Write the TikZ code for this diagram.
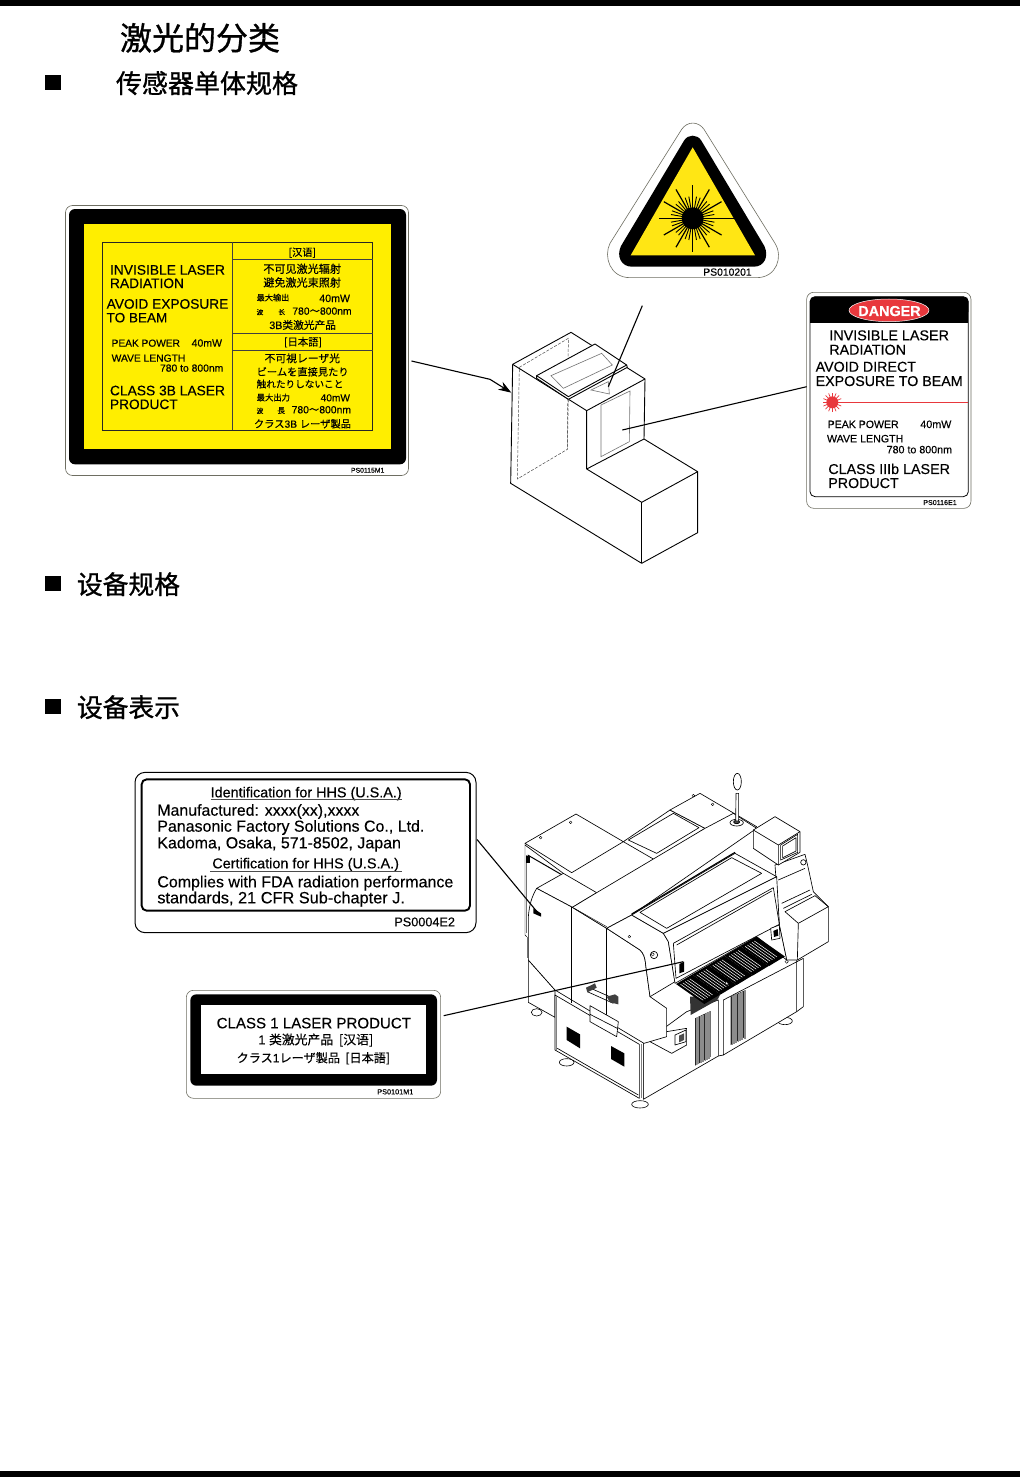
\documentclass[tikz,border=0pt]{standalone}
\usepackage{graphicx}
\usepackage{fontspec}
\setmainfont{Liberation Sans}[FakeBold=0.3]
\newfontfamily\cjksc{Noto Sans CJK SC}[FakeBold=0.2]
\newfontfamily\cjkjp{Noto Sans CJK JP}[FakeBold=0.2]
\newfontfamily\headfont{Noto Sans CJK SC}[FakeBold=1]
\usetikzlibrary{arrows.meta,calc}
\definecolor{lyellow}{HTML}{FFEE00}
\definecolor{tyellow}{HTML}{FFE614}
\definecolor{dred}{HTML}{E8383D}
\definecolor{frame}{HTML}{6E6E62}
\newcounter{tn}
\def\zf{1}
\newcommand\lbl[4]{\stepcounter{tn}\pgfmathsetmacro\lw{(#2-#1)*\zf}%
  \node[lbltext] (t\thetn) at (#1,#3) {\resizebox{\lw pt}{!}{#4}};}
\tikzset{
  lbltext/.style={anchor=base west,inner sep=0pt,outer sep=0pt},
  zs/.style 2 args={shift={(#1,#2)},x=0.33333pt,y=-0.33333pt},
  labelframe/.style={draw=frame,line width=0.6pt,fill=white,rounded corners=7pt,inner sep=0pt,outer sep=0pt},
  leader/.style={draw=black,line width=1.1pt},
  iso/.style={draw=black,line width=0.9pt,line join=round},
  isothin/.style={draw=black!55,line width=0.6pt},
  isodash/.style={draw=black!70,line width=0.5pt,dashed,dash pattern=on 3pt off 1.5pt},
  mach/.style={draw=black,line width=0.65pt,line join=round,fill=white},
  machl/.style={draw=black,line width=0.65pt,line join=round},
  machf/.style={draw=black,line width=0.4pt,line join=round},
  bullet/.style={fill=black,inner sep=0pt,minimum width=16pt,minimum height=15.5pt,outer sep=0pt}
}
\begin{document}
\begin{tikzpicture}[x=1pt,y=-1pt]
\useasboundingbox (0,0) rectangle (1020,1477);
\fill[white] (0,0) rectangle (1020,1477);
\fill[black] (0,0) rectangle (1020,6);
\fill[black] (0,1471) rectangle (1020,1477);
% headings
\lbl{120}{280}{50}{\headfont 激光的分类}
\lbl{116}{298}{93}{\headfont 传感器单体规格}
\lbl{77}{180}{594}{\headfont 设备规格}
\lbl{77}{180}{717}{\headfont 设备表示}
\node[bullet] (b1) at (53,82.5) {};
\node[bullet] (b2) at (53,583.5) {};
\node[bullet] (b3) at (53,706.5) {};
% label frames
\node[labelframe,minimum width=343pt,minimum height=270pt] (lab3b) at (237,340.5) {};
\node[labelframe,minimum width=164.3pt,minimum height=216pt] (labdanger) at (888.8,400.3) {};
\node[labelframe,draw=black,line width=1pt,rounded corners=10pt,minimum width=341pt,minimum height=160.3pt] (labhhs) at (305.5,852.5) {};
\node[labelframe,minimum width=254.3pt,minimum height=108pt] (labone) at (313.5,1044.3) {};
% ---- yellow label
\begin{scope}[zs={60}{200}]\def\zf{0.33333}
\fill[black,rounded corners=6pt] (27,27) rectangle (1038,793);
\fill[lyellow] (73,73) rectangle (992,746);
\draw[black!85,line width=0.8pt] (127,127) rectangle (938,691);
\draw[black!75,line width=0.7pt] (518,127) -- (518,691) (518,178) -- (938,178) (518,401) -- (938,401) (518,451) -- (938,451);
\lbl{150}{495}{224}{INVISIBLE LASER}
\lbl{150}{372}{264}{RADIATION}
\lbl{140}{505}{326}{AVOID EXPOSURE}
\lbl{140}{322}{367}{TO BEAM}
\lbl{155}{360}{440}{PEAK POWER}
\lbl{395}{486}{440}{40mW}
\lbl{155}{376}{485}{WAVE LENGTH}
\lbl{300}{490}{515}{780 to 800nm}
\lbl{150}{495}{586}{CLASS 3B LASER}
\lbl{150}{353}{627}{PRODUCT}
\lbl{686}{768}{168}{\cjksc [汉语]}
\lbl{610}{843}{219}{\cjksc 不可见激光辐射}
\lbl{610}{843}{260}{\cjksc 避免激光束照射}
\lbl{590}{688}{302}{\cjksc 最大输出}
\lbl{778}{870}{306}{40mW}
\lbl{590}{610}{344}{\cjksc 波}
\lbl{655}{675}{344}{\cjksc 长}
\lbl{697}{875}{344}{780{\cjksc ～}800nm}
\lbl{628}{828}{387}{3B{\cjksc 类激光产品}}
\lbl{672}{786}{437}{\cjkjp [日本語]}
\lbl{614}{840}{487}{\cjkjp 不可視レーザ光}
\lbl{590}{866}{527}{\cjkjp ビームを直接見たり}
\lbl{590}{850}{563}{\cjkjp 触れたりしないこと}
\lbl{590}{690}{602}{\cjkjp 最大出力}
\lbl{782}{870}{604}{40mW}
\lbl{590}{610}{640}{\cjkjp 波}
\lbl{652}{675}{640}{\cjkjp 長}
\lbl{695}{873}{640}{780{\cjkjp ～}800nm}
\lbl{582}{873}{683}{{\cjkjp クラス}3B {\cjkjp レーザ製品}}
\lbl{873}{973}{818}{PS0115M1}
\end{scope}
% ---- warning triangle + sensor + danger label
\begin{scope}[zs={490}{110}]\def\zf{0.33333}
\draw[frame,line width=0.6pt,fill=white] (575,58) -- (360,400) .. controls (340,440) and (360,503) .. (420,503) -- (800,503) .. controls (860,503) and (880,440) .. (855,400) -- (642,58) .. controls (625,33) and (592,33) .. (575,58) -- cycle;
\fill[black] (582,92) -- (393,408) .. controls (378,440) and (395,470) .. (425,470) -- (792,470) .. controls (822,470) and (838,440) .. (823,408) -- (634,92) .. controls (622,72) and (594,72) .. (582,92) -- cycle;
\fill[tyellow] (608,112) -- (795,436) -- (422,436) -- cycle;
\fill[black] (608,325) circle (33);
\foreach \a in {0,30,...,330} {\draw[black,line width=1.2pt] (608,325) -- ++(\a:100);}
\foreach \a in {10,20,40,50,70,80,100,110,130,140,160,170,190,200,220,230,250,260,280,290,310,320,340,350} {\draw[black,line width=0.9pt] (608,325) -- ++(\a:66);}
\draw[black,line width=1.2pt] (608,325) -- (736,325);
\lbl{640}{785}{497}{PS010201}
% sensor
\path[iso] (68,763) -- (243,667) -- (465,807) -- (462,987);
\path[iso] (68,763) -- (62,1120) -- (455,1360) -- (623,1268) -- (623,1085) -- (462,987) -- (290,1077) -- (455,1177) -- (623,1085);
\path[iso] (455,1177) -- (455,1360);
\path[iso] (290,1077) -- (290,902) -- (465,807);
\path[iso] (68,763) -- (290,902);
\draw[isodash] (88,772) -- (235,685) -- (232,1018) -- (82,1107) -- cycle;
\path[iso,fill=white] (140,797) -- (315,702) -- (410,765) -- (412,772) -- (235,868) -- (140,805) -- cycle;
\path[iso] (140,797) -- (235,860) -- (410,765);
\draw[isodash] (235,868) -- (232,1018);
\draw[isothin] (183,797) -- (335,730) -- (367,765) -- (220,835) -- cycle;
\draw[isothin] (303,840) -- (355,815) -- (358,852) -- cycle;
\draw[isothin] (333,885) -- (420,843) -- (418,995) -- (333,1040) -- cycle;
% danger label
\draw[black,line width=0.8pt,rounded corners=5pt] (960,560) rectangle (1435,1160);
\fill[black,rounded corners=5pt] (960,560) rectangle (1435,620);
\fill[black] (960,590) rectangle (1435,638);
\draw[white,fill=dred,line width=0.5pt] (1197,601) ellipse (120 and 34);
\lbl{1105}{1292}{618}{\textcolor{white}{\bfseries DANGER}}
\lbl{1018}{1377}{691}{INVISIBLE LASER}
\lbl{1018}{1248}{734}{RADIATION}
\lbl{977}{1278}{785}{AVOID DIRECT}
\lbl{977}{1418}{828}{EXPOSURE TO BEAM}
\draw[dred,line width=0.8pt] (1027,877) -- (1435,877);
\fill[dred] (1027,877) circle (18);
\foreach \a in {0,22.5,...,337.5} {\draw[dred,line width=0.7pt] (1027,877) -- ++(\a:29);}
\lbl{1013}{1226}{954}{PEAK POWER}
\lbl{1291}{1384}{954}{40mW}
\lbl{1011}{1240}{997}{WAVE LENGTH}
\lbl{1190}{1386}{1030}{780 to 800nm}
\lbl{1015}{1380}{1092}{CLASS IIIb LASER}
\lbl{1015}{1226}{1134}{PRODUCT}
\lbl{1300}{1400}{1185}{PS0116E1}
\coordinate (sensorArrow) at (64,848);
\coordinate (sensorBend) at (0,808);
\coordinate (sensorTop) at (457,587);
\coordinate (sensorTri) at (355,830);
\coordinate (sensorWin) at (397,960);
\end{scope}
% ---- HHS + class 1 labels
\begin{scope}[zs={125}{765}]\def\zf{0.33333}
\draw[black,line width=1.9pt,rounded corners=5pt] (50,43) rectangle (1035,437);
\lbl{257}{830}{97}{Identification for HHS (U.S.A.)}
\draw[black!70,line width=0.7pt] (257,104) -- (830,104);
\lbl{97}{703}{152}{Manufactured: xxxx(xx),xxxx}
\lbl{97}{898}{200}{Panasonic Factory Solutions Co., Ltd.}
\lbl{97}{828}{250}{Kadoma, Osaka, 571-8502, Japan}
\lbl{262}{822}{310}{Certification for HHS (U.S.A.)}
\draw[black!70,line width=0.7pt] (255,320) -- (830,320);
\lbl{97}{985}{367}{Complies with FDA radiation performance}
\lbl{97}{840}{415}{standards, 21 CFR Sub-chapter J.}
\lbl{808}{990}{484}{PS0004E2}
\fill[black,rounded corners=6pt] (196,688) rectangle (936,962);
\fill[white] (228,720) rectangle (904,928);
\lbl{275}{858}{790}{CLASS 1 LASER PRODUCT}
\lbl{400}{745}{838}{1 {\cjksc 类激光产品\ \ [汉语]}}
\lbl{335}{795}{892}{{\cjkjp クラス}1{\cjkjp レーザ製品\ \ [日本語]}}
\lbl{757}{865}{988}{PS0101M1}
\end{scope}
% ---- machine
\begin{scope}[zs={500}{765}]\def\zf{0.33333}
% back-left plate and post
\path[mach] (75,235) -- (228,147) -- (370,230) -- (215,323) -- cycle;
\path[machl] (75,240) -- (190,325);
\path[machl,line width=1pt] (83,270) -- (190,332);
\path[mach] (85,585) -- (85,712) -- (165,757) -- (165,675) -- cycle;
\draw[black!55,line width=1.5pt] (80,270) -- (80,505) (83,515) -- (83,580);
\path[machf] (75,235) -- (75,510) -- (80,515);
\fill[black] (78,272) rectangle (90,295);
% back window + back right plate
\path[mach] (370,230) -- (510,135) -- (615,190) -- (465,285) -- cycle;
\path[machl] (385,225) -- (520,145) -- (597,188) -- (470,265) -- cycle;
\path[mach] (510,135) -- (600,85) -- (770,185) -- (690,240) -- (615,190) -- cycle;
\foreach \p in {(122,218),(212,172),(580,92),(638,118)} {\draw[machf] \p circle (4);}
% feet behind
\foreach \p/\r in {(110,742)/16,(200,892)/22,(420,1018)/25,(855,768)/22} {\draw[black,line width=0.6pt,fill=white] \p ellipse (\r*1 and 11);}
% base cabinet, left face
\path[mach] (165,690) -- (165,855) -- (418,1000) -- (418,838) -- cycle;
\draw[black!50,line width=1.2pt] (169,693) -- (169,855) (424,838) -- (424,1000);
\path[machl] (172,850) -- (415,990);
\path[machl] (430,835) -- (430,1003);
\fill[black] (200,785) -- (240,808) -- (240,850) -- (200,825) -- cycle;
\fill[black] (333,843) -- (373,865) -- (373,905) -- (333,882) -- cycle;
% right cabinet
\path[mach] (430,1003) -- (655,873) -- (655,705) -- (560,740) -- (430,835) -- cycle;
\path[mach] (670,870) -- (890,740) -- (910,725) -- (910,580) -- (670,705) -- cycle;
\path[machl] (655,873) -- (670,870) (890,585) -- (890,740);
% vents
\fill[black!85] (585,760) -- (632,738) -- (632,875) -- (585,902) -- cycle;
\fill[black!85] (692,695) -- (737,675) -- (737,815) -- (692,840) -- cycle;
\foreach \i in {0,1,...,11} {
 \draw[black!45,line width=0.25pt] ({588+\i*3.7},{759-\i*1.75}) -- ++(0,141);
 \draw[black!45,line width=0.25pt] ({695+\i*3.6},{694-\i*1.6}) -- ++(0,145);}
% under-hood box and switch
\path[mach] (450,830) -- (515,865) -- (560,840) -- (560,790) -- (500,800) -- cycle;
\path[mach] (525,810) -- (558,795) -- (558,830) -- (525,840) -- cycle;
\fill[black!70] (537,812) -- (552,805) -- (552,825) -- (537,832) -- cycle;
% tower and console
\path[mach] (825,300) -- (915,268) -- (925,310) -- (940,380) -- (985,425) -- (985,530) -- (892,585) -- (860,585) -- (838,480) -- cycle;
\path[machl] (855,440) -- (945,392) -- (985,425) -- (895,475) -- cycle;
\path[machl] (895,475) -- (892,585);
\path[machl] (835,345) -- (915,310) (845,415) -- (930,375) (850,430) -- (935,388);
\draw[machl] (910,292) circle (8);
% hood
\path[mach] (110,370) -- (190,325) -- (290,383) -- (217,427) -- cycle;
\path[mach] (110,370) -- (217,427) -- (320,490) -- (420,555) .. controls (430,565) and (435,575) .. (437,600) -- (450,695) -- (500,730) -- (500,815) -- (432,835) -- (165,675) -- (85,585) -- (85,455) .. controls (88,420) and (95,395) .. (110,370) -- cycle;
\path[mach] (217,427) -- (290,383) -- (615,190) -- (700,145) -- (770,190) -- (395,450) -- (320,490) -- cycle;
\path[machf] (223,430) -- (320,485);
\path[mach] (320,490) -- (395,450) -- (490,505) -- (505,530) -- (525,650) -- (450,695) -- (437,600) .. controls (435,575) and (430,565) .. (420,555) -- cycle;
\path[mach] (395,450) -- (705,265) -- (830,335) -- (490,505) -- cycle;
\path[machl,line width=1.1pt] (395,447) -- (705,262);
\path[machl] (420,442) -- (695,278) -- (785,325) -- (500,490) -- cycle;
\path[mach] (490,505) -- (830,335) -- (838,480) -- (860,585) -- (770,515) -- (525,655) -- (505,530) -- cycle;
\path[machl] (520,535) -- (820,368) -- (838,478) -- (528,640) -- cycle;
\path[machl] (530,540) -- (815,378);
\path[machl] (215,427) -- (215,715);
\path[machl] (320,490) -- (320,760);
\draw[machf] (388,515) circle (4);
\draw[black,line width=0.65pt,fill=white] (462,570) circle (11);
\draw[machf] (458,568) circle (5);
\fill[black] (100,430) -- (123,445) -- (123,455) -- (100,445) -- cycle;
\fill[black] (538,597) -- (552,590) -- (552,620) -- (538,625) -- cycle;
% rear box seen through the cavity
\path[mach] (812,490) -- (838,480) -- (840,520) -- (815,525) -- cycle;
\fill[black] (820,498) -- (833,492) -- (835,512) -- (822,516) -- cycle;
% feeders
\fill[black!80] (570,695) -- (660,690) -- (652,705) -- (572,750) -- cycle;
\foreach \i in {0,1,2,3,4} {
 \begin{scope}[shift={(48.4*\i,-28.4*\i)}]
 \fill[black] (528,657) -- (576.4,628.6) -- (661,688) -- (613,717) -- cycle;
 \foreach \j in {1,...,5} {\draw[white,line width=0.5pt] ({528+\j*6.9+6.8},{657-\j*4.06+4.8}) -- ++(68,48);}
 \end{scope}}
\fill[white,draw=black,line width=0.4pt] (680,655) circle (5);
\fill[white,draw=black,line width=0.4pt] (860,590) circle (5);
% bracket + plate
\path[machl] (262,680) -- (340,715) (268,668) -- (345,702);
\fill[black!75] (258,668) -- (285,655) -- (290,668) -- (262,682) -- cycle;
\fill[black!75] (320,695) -- (345,688) -- (355,695) -- (355,718) -- (330,712) -- cycle;
\path[mach] (270,722) -- (355,770) -- (350,815) -- (270,770) -- cycle;
\path[machl] (270,748) -- (352,790);
% stick + monitor
\draw[mach] (710,173) ellipse (20 and 10);
\draw[black,line width=0.7pt,fill=black!70] (710,171) ellipse (9 and 5);
\draw[mach] (707,168) -- (708,85) -- (716,85) -- (716,168) -- cycle;
\draw[mach] (712,50) ellipse (12 and 25);
\path[mach] (760,195) -- (825,155) -- (900,200) -- (900,262) -- (835,300) -- (760,250) -- cycle;
\path[machl] (760,195) -- (835,240) -- (900,200) (835,240) -- (835,300);
\path[mach] (842,240) -- (893,208) -- (893,262) -- (842,285) -- cycle;
\path[machl] (848,243) -- (888,218) -- (888,258) -- (848,278) -- cycle;
\coordinate (machSide) at (115,445);
\coordinate (machFront) at (550,590);
\end{scope}
% connectors
\draw[leader] ([shift={(3,20.5)}]lab3b.east) -- (sensorBend);
\draw[leader,-{Stealth[length=13pt,width=9pt]}] (sensorBend) -- (sensorArrow);
\draw[leader] (sensorTop) -- (sensorTri);
\draw[leader] ([shift={(0,-13.6)}]labdanger.west) -- (sensorWin);
\draw[leader] ([shift={(1,-13)}]labhhs.east) -- (machSide);
\draw[leader] ([shift={(3,-28.6)}]labone.east) -- (machFront);
\end{tikzpicture}
\end{document}
